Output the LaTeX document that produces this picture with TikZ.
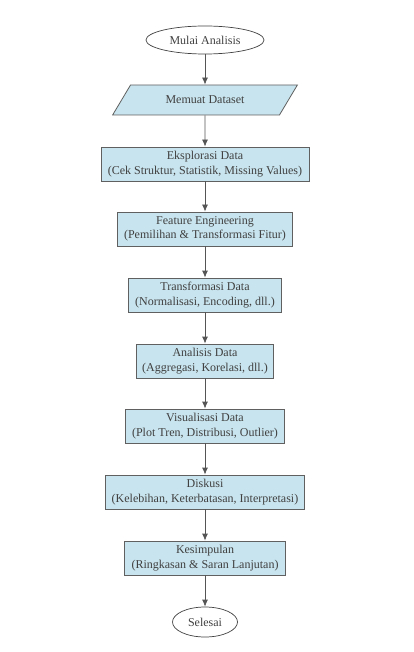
\documentclass[tikz,border=0pt]{standalone}
\usepackage{fontspec}
\setmainfont{Liberation Serif}
\usetikzlibrary{shapes.geometric,arrows.meta}

\definecolor{boxfill}{HTML}{C8E4EE}
\definecolor{boxline}{HTML}{606060}
\definecolor{arrline}{HTML}{555555}

\tikzset{
    langkah/.style={draw=boxline, fill=boxfill, line width=0.8pt, align=center,
        minimum height=34, inner sep=0pt, font=\fontsize{12}{14.5}\selectfont, text=black!75},
    terminal/.style={draw=black!75, ellipse, line width=0.7pt, inner sep=0pt,
        font=\fontsize{12}{14.5}\selectfont, text=black!75},
    panah/.style={draw=arrline, line width=0.8pt, -{Latex[length=7pt,width=6pt]}}
}

\begin{document}
\begin{tikzpicture}[x=1pt,y=-1pt]
    % Batas gambar
    \useasboundingbox (0,0) rectangle (414,652);

    % Awal dan akhir
    \node[terminal, minimum width=118, minimum height=28] (mulai) at (205,40) {Mulai Analisis};
    \node[terminal, minimum width=65, minimum height=30] (selesai) at (205,622) {Selesai};

    % Input data
    \node[langkah, trapezium, trapezium left angle=40, trapezium right angle=140,
        trapezium stretches=true, minimum width=185, minimum height=30] (muat) at (205,100) {Memuat Dataset};

    % Tahapan analisis
    \foreach \nama/\y/\w/\teks in {
        eksplorasi/164/208/{Eksplorasi Data\\(Cek Struktur, Statistik, Missing Values)},
        fitur/229/175/{Feature Engineering\\(Pemilihan \& Transformasi Fitur)},
        transformasi/295/153/{Transformasi Data\\(Normalisasi, Encoding, dll.)},
        analisis/361/137/{Analisis Data\\(Aggregasi, Korelasi, dll.)},
        visual/426/159/{Visualisasi Data\\(Plot Tren, Distribusi, Outlier)},
        diskusi/492/199/{Diskusi\\(Kelebihan, Keterbatasan, Interpretasi)},
        simpulan/558/161/{Kesimpulan\\(Ringkasan \& Saran Lanjutan)}}
    {
        \node[langkah, minimum width=\w] (\nama) at (205,\y) {\teks};
    }

    % Alur
    \foreach \a/\b in {mulai/muat, muat/eksplorasi, eksplorasi/fitur, fitur/transformasi,
        transformasi/analisis, analisis/visual, visual/diskusi, diskusi/simpulan, simpulan/selesai}
    {
        \draw[panah] (\a) -- (\b);
    }
\end{tikzpicture}
\end{document}
